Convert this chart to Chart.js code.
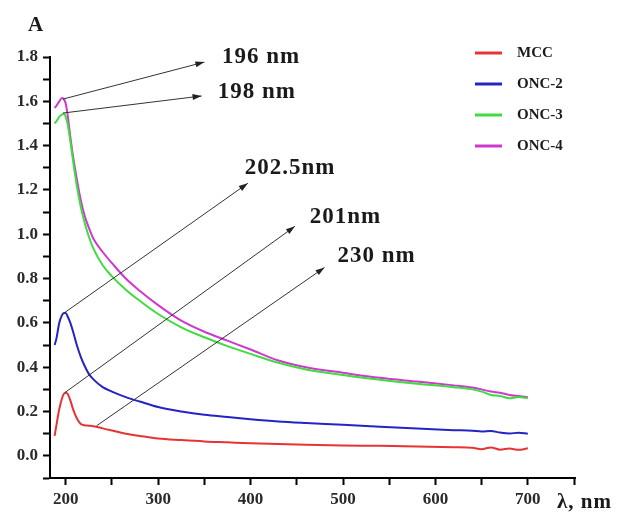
<!DOCTYPE html>
<html lang="en">
  <head>
    <meta charset="UTF-8">
    <title>UV spectra</title>
    <script src="https://cdn.jsdelivr.net/npm/chart.js"></script>
    <style>
      body { margin: 0; background: #fff; }
      #wrap { width: 631px; height: 513px; }
    </style>
  </head>
  <body>
    <div id="wrap"><canvas id="myChart" width="631" height="513"></canvas></div>
    <script>
      // wavelength, nm
      const wavelengths = [188, 190, 193, 196, 198, 200, 202, 205, 208, 212, 216, 220, 225, 230, 240, 250, 265, 280, 300, 325, 350, 375, 400, 430, 460, 500, 540, 580, 620, 640, 650, 660, 670, 680, 690, 700];
      // absorbance A
      const mcc  = [0.09, 0.14, 0.21, 0.26, 0.28, 0.285, 0.28, 0.25, 0.21, 0.17, 0.145, 0.138, 0.136, 0.134, 0.124, 0.114, 0.10, 0.09, 0.078, 0.071, 0.065, 0.061, 0.057, 0.053, 0.05, 0.047, 0.045, 0.042, 0.039, 0.036, 0.03, 0.038, 0.028, 0.033, 0.027, 0.034];
      const onc2 = [0.50, 0.53, 0.60, 0.635, 0.645, 0.645, 0.63, 0.60, 0.56, 0.50, 0.45, 0.41, 0.37, 0.345, 0.31, 0.29, 0.265, 0.245, 0.22, 0.20, 0.185, 0.175, 0.165, 0.155, 0.148, 0.14, 0.131, 0.123, 0.116, 0.113, 0.11, 0.112, 0.105, 0.101, 0.104, 0.10];
      const onc3 = [1.50, 1.51, 1.53, 1.54, 1.545, 1.53, 1.50, 1.42, 1.33, 1.22, 1.13, 1.06, 0.99, 0.935, 0.86, 0.81, 0.75, 0.70, 0.64, 0.58, 0.535, 0.495, 0.46, 0.42, 0.39, 0.365, 0.343, 0.325, 0.31, 0.30, 0.29, 0.275, 0.27, 0.26, 0.265, 0.26];
      const onc4 = [1.57, 1.58, 1.60, 1.615, 1.61, 1.59, 1.54, 1.44, 1.35, 1.25, 1.16, 1.09, 1.03, 0.98, 0.92, 0.87, 0.80, 0.745, 0.68, 0.61, 0.56, 0.52, 0.48, 0.43, 0.40, 0.375, 0.352, 0.335, 0.318, 0.308, 0.30, 0.29, 0.285, 0.275, 0.27, 0.265];
      const seriesNames = ['MCC', 'ONC-2', 'ONC-3', 'ONC-4'];
      const seriesColors = ['#e63434', '#2424c4', '#3edc3e', '#cf38cf'];

      // peak labels: text, arrow start (x, A), arrow tip (x, A), text anchor (x, A)
      const peakLabels = ['196 nm', '198 nm', '202.5nm', '201nm', '230 nm'];
      const arrowFrom = [[197, 1.61], [197, 1.547], [199, 0.647], [199, 0.285], [233.5, 0.136]];
      const arrowTo = [[350, 1.777], [347, 1.624], [397, 1.23], [448, 1.036], [480, 0.85]];
      const labelAt = [[369, 1.80], [364.5, 1.642], [393.7, 1.298], [464, 1.076], [494, 0.90]];

      const serif = "'Liberation Serif', 'DejaVu Serif', serif";

      const toPoints = (ys) => wavelengths.map((x, i) => ({ x: x, y: ys[i] }));

      // arrows, peak labels, legend and axis names
      const extras = {
        id: 'extras',
        afterDatasetsDraw(chart) {
          const c = chart.ctx;
          const xs = chart.scales.x, ys = chart.scales.y;
          c.save();
          c.strokeStyle = '#333';
          c.fillStyle = '#222';
          c.lineWidth = 1;
          arrowFrom.forEach((p, i) => {
            const x1 = xs.getPixelForValue(p[0]), y1 = ys.getPixelForValue(p[1]);
            const x2 = xs.getPixelForValue(arrowTo[i][0]), y2 = ys.getPixelForValue(arrowTo[i][1]);
            c.beginPath();
            c.moveTo(x1, y1);
            c.lineTo(x2, y2);
            c.stroke();
            const a = Math.atan2(y2 - y1, x2 - x1);
            c.beginPath();
            c.moveTo(x2, y2);
            c.lineTo(x2 - 9 * Math.cos(a) + 3 * Math.sin(a), y2 - 9 * Math.sin(a) - 3 * Math.cos(a));
            c.lineTo(x2 - 9 * Math.cos(a) - 3 * Math.sin(a), y2 - 9 * Math.sin(a) + 3 * Math.cos(a));
            c.closePath();
            c.fill();
          });
          c.fillStyle = '#1a1a1a';
          c.font = 'bold 23px ' + serif;
          c.letterSpacing = '1px';
          c.textBaseline = 'middle';
          c.textAlign = 'left';
          peakLabels.forEach((t, i) => {
            c.fillText(t, xs.getPixelForValue(labelAt[i][0]), ys.getPixelForValue(labelAt[i][1]));
          });

          // legend
          c.letterSpacing = '0px';
          c.font = 'bold 15px ' + serif;
          chart.data.datasets.forEach((ds, i) => {
            const y = 53 + i * 31;
            c.strokeStyle = ds.borderColor;
            c.lineWidth = 3;
            c.beginPath();
            c.moveTo(475, y);
            c.lineTo(502, y);
            c.stroke();
            c.fillStyle = '#1a1a1a';
            c.fillText(ds.label, 517, y);
          });

          // axis names
          c.font = 'bold 21px ' + serif;
          c.fillText('A', 28, 26);
          c.letterSpacing = '1px';
          c.fillText('λ, nm', 557, 503);
          c.restore();
        }
      };

      const tickFont = { family: serif, size: 17, weight: 'bold' };

      const ctx = document.getElementById('myChart');
      const myChart = new Chart(ctx, {
        type: 'line',
        data: {
          datasets: [mcc, onc2, onc3, onc4].map((ys, i) => ({
            label: seriesNames[i],
            data: toPoints(ys),
            borderColor: seriesColors[i],
            borderWidth: 2,
            pointRadius: 0,
            cubicInterpolationMode: 'monotone',
            fill: false
          }))
        },
        options: {
          responsive: false,
          animation: false,
          layout: { padding: { top: 57, right: 56, left: 0, bottom: 0 } },
          plugins: {
            legend: { display: false },
            tooltip: { enabled: false }
          },
          scales: {
            x: {
              type: 'linear',
              min: 183,
              max: 751,
              afterFit: (s) => { s.height = 35; },
              border: { color: '#000', width: 2 },
              grid: { drawOnChartArea: false, drawTicks: true, tickLength: 7, tickColor: '#000', tickWidth: 2 },
              ticks: {
                stepSize: 50,
                includeBounds: false,
                autoSkip: false,
                maxRotation: 0,
                padding: 4,
                color: '#2a2a2a',
                font: tickFont,
                callback: (v) => (v % 100 === 0 && v <= 700 ? String(v) : '')
              }
            },
            y: {
              min: -0.1,
              max: 1.8,
              afterFit: (s) => { s.width = 50; },
              border: { color: '#000', width: 2 },
              grid: { drawOnChartArea: false, drawTicks: true, tickLength: 7, tickColor: '#000', tickWidth: 2 },
              ticks: {
                stepSize: 0.1,
                includeBounds: false,
                autoSkip: false,
                padding: 5,
                color: '#2a2a2a',
                font: tickFont,
                callback: (v) => {
                  const n = Math.round(v * 10);
                  return n >= 0 && n % 2 === 0 ? (n / 10).toFixed(1) : '';
                }
              }
            }
          }
        },
        plugins: [extras]
      });
    </script>
  </body>
</html>
